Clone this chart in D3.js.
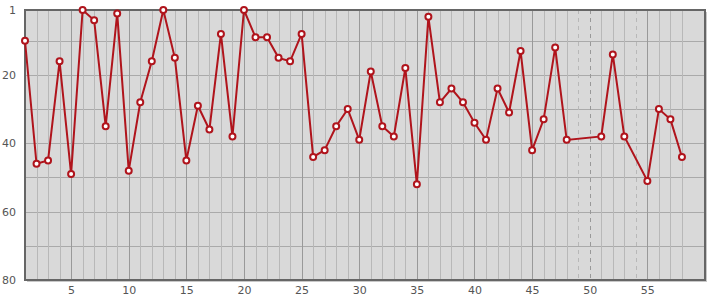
<!DOCTYPE html>
<html>
<head>
<meta charset="utf-8">
<script src="https://cdn.jsdelivr.net/npm/d3@7"></script>
<style>
  body { margin: 0; background: #fff; }
  text { font-family: "DejaVu Sans", sans-serif; font-size: 11px; fill: #555; }
</style>
</head>
<body>
<div id="chart"></div>
<script>
// rank per round (null = no data for that round)
var rounds = d3.range(1, 59)
var ranks = [10, 46, 45, 16, 49, 1, 4, 35, 2, 48,
             28, 16, 1, 15, 45, 29, 36, 8, 38, 1,
             9, 9, 15, 16, 8, 44, 42, 35, 30, 39,
             19, 35, 38, 18, 52, 3, 28, 24, 28, 34,
             39, 24, 31, 13, 42, 33, 12, 39, null, null,
             38, 14, 38, null, 51, 30, 33, 44]
var yTicks = [1, 20, 40, 60, 80]
var xTicks = [5, 10, 15, 20, 25, 30, 35, 40, 45, 50, 55]
var yGrid = [10, 20, 30, 40, 50, 60, 70]

var width = 715, height = 300
var margin = {top: 10, right: 10, bottom: 20, left: 25}

var svg = d3.select("#chart").append("svg")
    .attr("width", width)
    .attr("height", height)

var xScale = d3.scaleLinear()
    .domain([1, 60])
    .range([margin.left, width - margin.right])
var yScale = d3.scaleLinear()
    .domain([1, 80])
    .range([margin.top, height - margin.bottom])

var data = rounds.map(function(r, i) { return {round: r, rank: ranks[i]} })

// shadow + background
svg.append("rect")
    .attr("x", margin.left + 2).attr("y", margin.top + 2)
    .attr("width", xScale(60) - margin.left).attr("height", yScale(80) - margin.top)
    .attr("fill", "#c8c8c8")
svg.append("rect")
    .attr("x", margin.left).attr("y", margin.top)
    .attr("width", xScale(60) - margin.left).attr("height", yScale(80) - margin.top)
    .attr("fill", "#d9d9d9")

// horizontal grid
svg.append("g").selectAll("line")
    .data(yGrid)
    .join("line")
    .attr("x1", margin.left).attr("x2", xScale(60))
    .attr("y1", d => Math.round(yScale(d)) + 0.5)
    .attr("y2", d => Math.round(yScale(d)) + 0.5)
    .attr("stroke", "#aaa")

// vertical grid, dashed where there is no data
svg.append("g").selectAll("line")
    .data(data)
    .join("line")
    .attr("x1", d => Math.round(xScale(d.round)) + 0.5)
    .attr("x2", d => Math.round(xScale(d.round)) + 0.5)
    .attr("y1", margin.top).attr("y2", yScale(80))
    .attr("stroke", d => d.round % 5 == 0 ? "#999" : "#b8b8b8")
    .attr("stroke-dasharray", d => d.rank == null ? "4,4" : null)

// frame
svg.append("rect")
    .attr("x", margin.left).attr("y", margin.top)
    .attr("width", xScale(60) - margin.left).attr("height", yScale(80) - margin.top)
    .attr("fill", "none")
    .attr("stroke", "#666")
    .attr("stroke-width", 2)

// axes labels
var yAxis = d3.axisLeft(yScale).tickValues(yTicks).tickSize(0).tickPadding(9)
svg.append("g")
    .attr("transform", "translate(" + margin.left + ",0)")
    .call(yAxis)
    .call(g => g.select(".domain").remove())

var xAxis = d3.axisBottom(xScale).tickValues(xTicks).tickSize(0).tickPadding(6)
svg.append("g")
    .attr("transform", "translate(0," + yScale(80) + ")")
    .call(xAxis)
    .call(g => g.select(".domain").remove())

svg.selectAll(".tick text").attr("fill", "#555")
    .style("font-family", "DejaVu Sans, sans-serif").style("font-size", "11px")

// line + points
var points = data.filter(d => d.rank != null)
svg.append("path")
    .datum(points)
    .attr("fill", "none")
    .attr("stroke", "#b0141c")
    .attr("stroke-width", 2)
    .attr("d", d3.line()
        .x(d => xScale(d.round))
        .y(d => yScale(d.rank)))

svg.append("g").selectAll("circle")
    .data(points)
    .join("circle")
    .attr("cx", d => xScale(d.round))
    .attr("cy", d => yScale(d.rank))
    .attr("r", 3)
    .attr("fill", "#fff")
    .attr("stroke", "#b0141c")
    .attr("stroke-width", 2)
</script>
</body>
</html>
